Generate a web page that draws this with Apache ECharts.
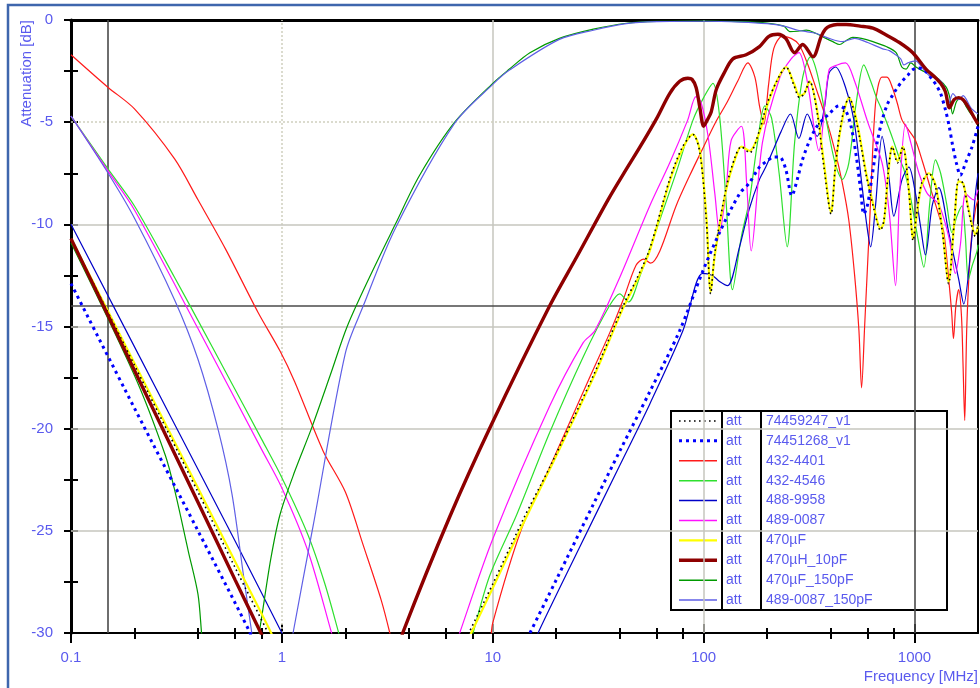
<!DOCTYPE html>
<html>
<head>
<meta charset="utf-8">
<script src="https://cdn.jsdelivr.net/npm/echarts@6/dist/echarts.min.js"></script>
<style>
  html, body { margin: 0; padding: 0; background: #ffffff; }
  #chart { width: 980px; height: 688px; }
</style>
</head>
<body>
<div id="chart"></div>
<script>
// ---- Frequency axis ticks (MHz) ----
const majorTicks = [0.1, 1, 10, 100, 1000];
const minorTicks = [0.2, 0.4, 0.6, 0.8, 2, 4, 6, 8, 20, 40, 60, 80, 200, 400, 600, 800];

// ---- Measured attenuation curves: frequency [MHz] / attenuation [dB] ----
// Each trace has a low-frequency branch and a high-frequency branch; in between it is below -30 dB.

// 74459247_v1
const f74459247Lo = [0.1, 0.2, 0.4, 0.6, 0.86, 0.88];
const a74459247Lo = [-10.7, -16.9, -23.1, -26.8, -30.0, -30.3];
const f74459247Hi = [7.5, 7.7, 10, 14, 18.6, 30, 41.5, 48, 55.5, 69, 79.5, 89, 96, 103, 108, 113, 128, 141, 151, 165, 184, 200, 222, 246, 268, 285, 300, 318, 345, 372, 402, 420, 440, 465, 490, 520, 550, 590, 640, 690, 716, 750, 785, 830, 880, 940, 985, 1020, 1080, 1169, 1260, 1360, 1450, 1540, 1621, 1700, 1800, 1945, 2000];
const a74459247Hi = [-30.3, -30, -27.6, -24.4, -21.9, -17.4, -14.0, -12.7, -11.2, -7.8, -6.2, -5.6, -6.5, -9.8, -13.4, -11.4, -8.2, -6.7, -6.2, -6.5, -5.4, -4.1, -3.0, -2.3, -3.2, -3.8, -3.6, -3.0, -4.5, -7.2, -9.5, -7.3, -5.6, -4.3, -3.8, -4.6, -5.8, -7.6, -9.2, -10.3, -9.8, -7.5, -6.2, -7.0, -6.2, -8.4, -10.8, -9.6, -8.0, -7.5, -8.2, -10.5, -12.9, -10.0, -7.8, -8.0, -9.3, -10.6, -10.0];

// 74451268_v1
const f74451268Lo = [0.1, 0.2, 0.4, 0.7, 0.72];
const a74451268Lo = [-12.9, -19.0, -25.0, -29.9, -30.3];
const f74451268Hi = [14.5, 15, 20, 30, 40, 55.5, 77, 99, 119, 148, 164, 184, 200, 215, 229, 245, 262, 278, 293, 315, 340, 365, 393, 438, 470, 500, 530, 555, 575, 600, 630, 665, 702, 745, 785, 830, 873, 930, 974, 1030, 1090, 1150, 1210, 1270, 1330, 1402, 1460, 1520, 1580, 1650, 1745, 1875, 2000];
const a74451268Hi = [-30.3, -30, -27.4, -23.7, -21.1, -18.2, -15.2, -12.3, -10.4, -8.5, -8.0, -7.2, -6.9, -6.7, -6.7, -7.3, -8.6, -7.8, -6.9, -6.0, -5.3, -4.9, -4.6, -4.2, -4.4, -5.2, -6.7, -8.3, -9.5, -9.0, -7.6, -6.0, -4.9, -4.1, -3.7, -3.3, -3.0, -2.7, -2.45, -2.35, -2.4, -2.6, -2.9, -3.2, -3.6, -4.4, -5.2, -6.2, -7.0, -7.6, -7.0, -6.2, -5.2];

// 432-4401
const f4324401Lo = [0.1, 0.15, 0.2, 0.31, 0.4, 0.54, 0.77, 0.98, 1.15, 1.57, 2.0, 2.43, 2.96, 3.25, 3.3];
const a4324401Lo = [-1.7, -3.3, -4.35, -6.8, -8.8, -11.2, -14.3, -16.2, -17.7, -21.1, -23.1, -25.7, -28.4, -30, -30.4];
const f4324401Hi = [9.8, 10, 13.7, 18.6, 28.8, 35.9, 41.5, 47.8, 52, 56, 62, 74, 86, 100, 114, 128, 145, 162, 175, 184, 193, 203, 215, 236, 260, 283, 310, 340, 380, 422, 455, 488, 520, 545, 561, 580, 615, 653, 700, 740, 785, 830, 873, 940, 1011, 1089, 1212, 1300, 1377, 1453, 1500, 1530, 1570, 1620, 1670, 1700, 1730, 1770, 1850, 1950, 2000];
const a4324401Hi = [-30.4, -29.5, -24.9, -21.9, -17.5, -15.3, -13.7, -12.0, -11.7, -11.9, -11.3, -9.1, -7.6, -6.2, -5.0, -4.1, -3.0, -2.1, -2.8, -4.2, -5.1, -3.2, -1.4, -0.8, -0.9, -1.2, -2.1, -3.3, -4.8, -6.5, -8.0, -9.8, -12.5, -15.2, -18.0, -15.0, -9.5, -4.1, -2.8, -2.8, -3.3, -4.1, -4.9, -5.4, -5.9, -6.9, -8.5, -9.5, -10.4, -12.7, -14.3, -15.6, -14.0, -13.2, -14.5, -17.0, -19.6, -15.0, -11.0, -9.2, -8.8];

// 432-4546
const f4324546Lo = [0.1, 0.15, 0.2, 0.31, 0.4, 0.58, 0.8, 1.0, 1.33, 1.6, 1.86, 1.9];
const a4324546Lo = [-4.7, -7.3, -9.1, -12.6, -14.7, -17.8, -20.5, -22.4, -25.2, -27.6, -30, -30.4];
const f4324546Hi = [7.9, 8.06, 9.67, 13, 18.6, 26.8, 35.7, 40, 44, 50, 61.9, 75, 89, 100, 110.7, 119, 128, 137, 151, 165, 180, 195, 210, 228, 249, 270, 295, 321, 345, 380, 420, 455, 488, 530, 575, 620, 660, 700, 750, 800, 850, 890, 950, 1030, 1107, 1180, 1257, 1330, 1420, 1505, 1590, 1681, 1740, 1800, 1880, 1980, 2000];
const a4324546Hi = [-30.3, -30, -27.2, -24.2, -20.2, -16.5, -14.0, -13.4, -13.8, -12.5, -9.8, -7.3, -4.9, -3.8, -3.1, -4.7, -9.0, -13.2, -10.6, -8.8, -6.0, -4.2, -4.8, -7.5, -11.1, -6.0, -2.8, -1.8, -2.6, -4.8, -7.0, -7.8, -7.0, -4.0, -2.2, -3.0, -3.8, -4.4, -5.2, -6.0, -6.8, -7.3, -8.5, -10.5, -12.1, -9.0, -6.85, -7.5, -9.0, -10.4, -9.6, -9.1, -10.5, -12.7, -12.0, -11.3, -11.0];

// 488-9958
const f4889958Lo = [0.1, 0.3, 0.6, 1.0, 1.02];
const a4889958Lo = [-10.0, -19.5, -25.5, -30.0, -30.2];
const f4889958Hi = [16.0, 16.4, 25, 40, 55.5, 79.8, 99, 110, 119, 130, 148, 164, 184, 197, 215, 232, 258, 283, 310, 345, 375, 393, 422, 471, 516, 565, 595, 619, 653, 702, 756, 798, 873, 940, 1011, 1068, 1127, 1212, 1303, 1453, 1621, 1712, 1842, 1945, 2000];
const a4889958Hi = [-30.4, -30, -26.1, -21.8, -18.8, -15.2, -12.4, -12.5, -12.8, -13.0, -11.1, -9.3, -7.8, -7.2, -6.3, -5.5, -4.6, -5.8, -4.6, -5.7, -4.2, -2.6, -2.3, -3.3, -4.9, -8.2, -10.1, -11.1, -9.1, -5.7, -7.7, -9.6, -7.8, -7.2, -8.5, -10.1, -11.5, -9.1, -8.2, -10.4, -12.7, -13.9, -11.4, -8.5, -7.5];

// 489-0087
const f4890087Lo = [0.1, 0.15, 0.2, 0.4, 0.8, 1.0, 1.33, 1.72, 1.76];
const a4890087Lo = [-4.7, -7.4, -9.3, -15.1, -21.0, -22.9, -26.0, -30, -30.4];
const f4890087Hi = [6.8, 6.97, 10, 18.6, 26.8, 30.5, 40, 55.5, 69, 84, 92, 97, 105, 113, 119, 128, 135, 151, 160, 168, 190, 230, 260, 283, 310, 352, 393, 430, 471, 520, 600, 702, 760, 813, 850, 906, 960, 1050, 1150, 1300, 1453, 1562, 1650, 1750, 1900, 2000];
const a4890087Hi = [-30.4, -30, -25.4, -18.9, -15.8, -15.2, -12.6, -9.1, -7.0, -4.9, -3.75, -4.0, -5.7, -8.5, -10.4, -8.2, -5.9, -5.2, -8.0, -11.3, -6.0, -2.8, -1.9, -1.6, -3.0, -6.4, -2.45, -2.2, -2.1, -3.0, -5.0, -7.0, -9.5, -13.0, -8.5, -5.1, -6.0, -7.5, -8.5, -9.0, -10.6, -12.4, -11.0, -8.5, -8.8, -8.3];

// 470µF
const f470uFLo = [0.1, 0.2, 0.4, 0.6, 0.89, 0.91];
const a470uFLo = [-10.7, -16.8, -22.9, -26.5, -30.0, -30.3];
const f470uFHi = [7.7, 7.9, 10, 14, 18.6, 30, 41.5, 48, 55.5, 69, 79.5, 89, 96, 103, 108, 113, 128, 141, 151, 165, 184, 200, 222, 246, 268, 285, 300, 318, 345, 372, 402, 420, 440, 465, 490, 520, 550, 590, 640, 690, 716, 750, 785, 830, 880, 940, 985, 1020, 1080, 1169, 1260, 1360, 1450, 1540, 1621, 1700, 1800, 1945, 2000];
const a470uFHi = [-30.3, -30, -27.8, -24.6, -22.0, -17.5, -14.1, -12.8, -11.3, -7.9, -6.3, -5.6, -6.4, -9.6, -13.3, -11.5, -8.3, -6.8, -6.2, -6.4, -5.5, -4.2, -3.0, -2.3, -3.1, -3.7, -3.6, -3.0, -4.4, -7.0, -9.4, -7.4, -5.7, -4.4, -3.8, -4.5, -5.7, -7.5, -9.1, -10.2, -9.9, -7.6, -6.2, -6.9, -6.2, -8.3, -10.7, -9.7, -8.1, -7.5, -8.1, -10.4, -12.8, -10.1, -7.9, -8.0, -9.2, -10.5, -10.1];

// 470µH_10pF
const f470uH10pFLo = [0.1, 0.2, 0.4, 0.6, 0.795, 0.81];
const a470uH10pFLo = [-10.7, -17.15, -23.6, -27.4, -30, -30.2];
const f470uH10pFHi = [3.7, 3.74, 6.26, 9.86, 18.6, 25, 35.2, 43, 50, 60, 69, 77, 84.2, 88, 92.1, 96, 100, 104, 108.6, 114.8, 125, 137.6, 159, 184, 204, 225, 245, 270, 295, 330, 361, 378, 396, 430, 475, 551, 635, 734, 848, 981, 1133, 1250, 1330, 1400, 1464, 1540, 1621, 1700, 1809, 1900, 2000];
const a470uH10pFHi = [-30.4, -30, -24.3, -19.8, -14.0, -11.6, -8.8, -7.3, -6.2, -4.8, -3.6, -3.0, -2.85, -2.9, -3.3, -4.3, -5.2, -4.9, -4.5, -3.4, -2.6, -1.9, -1.7, -1.3, -0.8, -0.7, -0.9, -1.6, -1.2, -1.8, -0.8, -0.45, -0.3, -0.22, -0.22, -0.3, -0.4, -0.73, -1.1, -1.6, -2.4, -2.8, -3.1, -3.5, -4.3, -3.9, -3.8, -3.9, -4.3, -4.7, -5.1];

// 470µF_150pF
const f470uF150pFLo = [0.1, 0.2, 0.28, 0.31, 0.36, 0.4, 0.416, 0.42];
const a470uF150pFLo = [-10.9, -17.4, -21.3, -23.0, -26.0, -28.1, -30, -30.5];
const f470uF150pFHi = [0.76, 0.78, 0.885, 0.98, 1.15, 1.38, 1.7, 2.04, 2.6, 3.45, 4.5, 6.6, 10, 12, 15, 20.7, 30, 43, 60, 100, 150, 200, 240, 256, 280, 307, 340, 380, 410, 441, 475, 510, 560, 635, 734, 818, 870, 912, 960, 1016, 1100, 1177, 1303, 1415, 1470, 1515, 1580, 1650, 1750, 1850, 2000];
const a470uF150pFHi = [-30.4, -30, -26.4, -24.2, -22.1, -20, -17.35, -15, -12.6, -10, -7.6, -5, -3.1, -2.4, -1.6, -0.9, -0.45, -0.16, -0.07, -0.05, -0.08, -0.15, -0.3, -0.57, -0.55, -0.5, -0.65, -0.9, -1.06, -1.2, -1.0, -0.85, -0.9, -1.06, -1.3, -1.6, -2.3, -2.4, -2.1, -2.3, -2.5, -2.6, -2.9, -3.3, -3.8, -4.6, -4.0, -3.8, -4.2, -4.6, -5.0];

// 489-0087_150pF
const f4890087150pFLo = [0.1, 0.15, 0.2, 0.31, 0.4, 0.5, 0.58, 0.66, 0.72, 0.73];
const a4890087150pFLo = [-4.7, -7.5, -9.7, -13.7, -16.6, -20.1, -23.2, -27.3, -30, -30.5];
const f4890087150pFHi = [1.12, 1.13, 1.41, 2.0, 2.43, 3.45, 6.6, 10, 12, 20.7, 30, 43, 60, 100, 150, 200, 240, 280, 307, 340, 393, 455, 520, 600, 702, 760, 813, 860, 890, 930, 1011, 1100, 1169, 1303, 1390, 1453, 1520, 1621, 1700, 1850, 2000];
const a4890087150pFHi = [-30.5, -30, -24.7, -16.3, -14.0, -10.2, -5.05, -3.15, -2.45, -0.95, -0.5, -0.18, -0.08, -0.06, -0.1, -0.18, -0.3, -0.5, -0.57, -0.65, -0.9, -1.06, -0.9, -1.1, -1.4, -1.5, -1.7, -1.9, -2.2, -2.1, -2.0, -2.4, -2.7, -2.9, -3.3, -4.1, -3.6, -3.9, -3.7, -4.3, -4.6];

// ---- Reference lines ----
const limitFreqs = [0.15, 1000];   // band edges
const limitLevel = -14;            // dB
const gridFreqs = [10, 100];
const gridLevels = [-10, -15, -20, -25];

// ---- Styling ----
const labelBlue = '#5a5aee';
const fontFamily = '"Liberation Sans", Arial, sans-serif';

// legend order and drawing order
const legendOrder = ['74459247_v1', '74451268_v1', '432-4401', '432-4546', '488-9958', '489-0087', '470µF', '470µH_10pF', '470µF_150pF', '489-0087_150pF'];
const drawOrder = ['432-4401', '432-4546', '488-9958', '489-0087', '470µF_150pF', '489-0087_150pF', '470µF', '74459247_v1', '74451268_v1', '470µH_10pF'];

const styles = {
  '74459247_v1':    { color: '#000000', width: 1.6, type: [1.6, 3.4] },
  '74451268_v1':    { color: '#0000ff', width: 3,   type: [3, 4] },
  '432-4401':       { color: '#ff1a1a', width: 1.2, type: 'solid' },
  '432-4546':       { color: '#2ee02e', width: 1.2, type: 'solid' },
  '488-9958':       { color: '#0000c8', width: 1.2, type: 'solid' },
  '489-0087':       { color: '#ff10ff', width: 1.2, type: 'solid' },
  '470µF':          { color: '#ffff00', width: 2.2, type: 'solid' },
  '470µH_10pF':     { color: '#8e0000', width: 3.4, type: 'solid' },
  '470µF_150pF':    { color: '#009a00', width: 1.2, type: 'solid' },
  '489-0087_150pF': { color: '#5f5fe6', width: 1.2, type: 'solid' }
};

const traces = {
  '74459247_v1':    [f74459247Lo, a74459247Lo, f74459247Hi, a74459247Hi],
  '74451268_v1':    [f74451268Lo, a74451268Lo, f74451268Hi, a74451268Hi],
  '432-4401':       [f4324401Lo, a4324401Lo, f4324401Hi, a4324401Hi],
  '432-4546':       [f4324546Lo, a4324546Lo, f4324546Hi, a4324546Hi],
  '488-9958':       [f4889958Lo, a4889958Lo, f4889958Hi, a4889958Hi],
  '489-0087':       [f4890087Lo, a4890087Lo, f4890087Hi, a4890087Hi],
  '470µF':          [f470uFLo, a470uFLo, f470uFHi, a470uFHi],
  '470µH_10pF':     [f470uH10pFLo, a470uH10pFLo, f470uH10pFHi, a470uH10pFHi],
  '470µF_150pF':    [f470uF150pFLo, a470uF150pFLo, f470uF150pFHi, a470uF150pFHi],
  '489-0087_150pF': [f4890087150pFLo, a4890087150pFLo, f4890087150pFHi, a4890087150pFHi]
};

// join both branches, leaving a gap where the trace is below the plotted range
function toPairs(fLo, aLo, fHi, aHi) {
  const out = fLo.map((f, i) => [f, aLo[i]]);
  out.push([fLo[fLo.length - 1], '-']);
  fHi.forEach((f, i) => out.push([f, aHi[i]]));
  return out;
}

function fmtFreq(v) { return String(parseFloat(Number(v).toPrecision(6))); }

const gridLineLight = { color: '#c6c6be', width: 1.5, type: 'solid' };
const gridLineDotted = { color: '#cfcfbf', width: 1.5, type: [2, 2] };
const gridLineDark = { color: '#4a4a4a', width: 1.6, type: 'solid' };

const markData = []
  .concat(gridFreqs.map(f => ({ xAxis: f, lineStyle: gridLineLight })))
  .concat([{ xAxis: 1, lineStyle: gridLineDotted }])
  .concat(gridLevels.map(v => ({ yAxis: v, lineStyle: gridLineLight })))
  .concat([{ yAxis: -5, lineStyle: gridLineDotted }])
  .concat(limitFreqs.map(f => ({ xAxis: f, lineStyle: gridLineDark })))
  .concat([{ yAxis: limitLevel, lineStyle: gridLineDark }]);

const series = [{
  name: 'grid',
  type: 'line',
  data: [],
  silent: true,
  z: 1,
  markLine: {
    silent: true, z: 1, symbol: ['none', 'none'], label: { show: false },
    animation: false, data: markData
  }
}].concat(drawOrder.map(name => ({
  name: name,
  type: 'line',
  data: toPairs.apply(null, traces[name]),
  showSymbol: false,
  smooth: 0.3,
  connectNulls: false,
  clip: true,
  z: 3,
  lineStyle: { color: styles[name].color, width: styles[name].width, type: styles[name].type, cap: 'butt' },
  emphasis: { disabled: true }
})));

const logAxisBase = { type: 'log', logBase: 10, min: 0.1, max: 2000, gridIndex: 0, splitLine: { show: false } };

const xAxis = [
  Object.assign({}, logAxisBase, {
    position: 'bottom',
    axisLine: { onZero: false, lineStyle: { color: '#000', width: 2 } },
    axisTick: { show: true, inside: false, length: 10, customValues: majorTicks, lineStyle: { color: '#000', width: 2 } },
    axisLabel: { show: true, customValues: majorTicks, formatter: fmtFreq, color: labelBlue, fontSize: 15, fontFamily: fontFamily, margin: 17 }
  }),
  Object.assign({}, logAxisBase, {
    position: 'bottom',
    axisLine: { show: false, onZero: false },
    axisTick: { show: true, inside: false, length: 6, customValues: minorTicks, lineStyle: { color: '#000', width: 2 } },
    axisLabel: { show: false }
  }),
  Object.assign({}, logAxisBase, {
    position: 'bottom',
    axisLine: { show: false, onZero: false },
    axisTick: { show: true, inside: true, length: 9, customValues: majorTicks, lineStyle: { color: '#000', width: 2 } },
    axisLabel: { show: false }
  }),
  Object.assign({}, logAxisBase, {
    position: 'bottom',
    axisLine: { show: false, onZero: false },
    axisTick: { show: true, inside: true, length: 5, customValues: minorTicks, lineStyle: { color: '#000', width: 2 } },
    axisLabel: { show: false }
  }),
  Object.assign({}, logAxisBase, {
    position: 'top',
    axisLine: { show: true, onZero: false, lineStyle: { color: '#000', width: 3 } },
    axisTick: { show: false },
    axisLabel: { show: false }
  })
];

const yBase = { type: 'value', min: -30, max: 0, interval: 2.5, gridIndex: 0, splitLine: { show: false } };
const yAxis = [
  Object.assign({}, yBase, {
    position: 'left',
    axisLine: { show: true, onZero: false, lineStyle: { color: '#000', width: 3 } },
    axisTick: { show: true, inside: false, length: 7, lineStyle: { color: '#000', width: 2 } },
    axisLabel: { show: true, color: labelBlue, fontSize: 15, fontFamily: fontFamily, margin: 18,
      formatter: v => (Math.abs(v % 5) < 1e-9 ? String(v) : '') }
  }),
  Object.assign({}, yBase, {
    position: 'left',
    axisLine: { show: false, onZero: false },
    axisTick: { show: true, inside: true, length: 7, lineStyle: { color: '#000', width: 2 } },
    axisLabel: { show: false }
  }),
  Object.assign({}, yBase, {
    position: 'right',
    axisLine: { show: true, onZero: false, lineStyle: { color: '#000', width: 2 } },
    axisTick: { show: false },
    axisLabel: { show: false }
  })
];

// ---- Legend table ----
const legendBox = { x: 671, y: 411, w: 276, rowH: 19.9, col1: 722, col2: 761 };
const legendChildren = [{
  type: 'rect',
  shape: { x: legendBox.x, y: legendBox.y, width: legendBox.w, height: legendBox.rowH * legendOrder.length },
  style: { fill: '#ffffff', stroke: '#000000', lineWidth: 2 }
}, {
  type: 'line',
  shape: { x1: legendBox.col1, y1: legendBox.y, x2: legendBox.col1, y2: legendBox.y + legendBox.rowH * legendOrder.length },
  style: { stroke: '#000', lineWidth: 2 }
}, {
  type: 'line',
  shape: { x1: legendBox.col2, y1: legendBox.y, x2: legendBox.col2, y2: legendBox.y + legendBox.rowH * legendOrder.length },
  style: { stroke: '#000', lineWidth: 2 }
}];
legendOrder.forEach((name, i) => {
  const cy = legendBox.y + legendBox.rowH * (i + 0.5);
  const st = styles[name];
  legendChildren.push({
    type: 'line',
    shape: { x1: 679, y1: cy, x2: 717, y2: cy },
    style: { stroke: st.color, lineWidth: Math.max(st.width, 1.5), lineDash: Array.isArray(st.type) ? st.type : null }
  });
  legendChildren.push({
    type: 'text', x: 726, y: cy,
    style: { text: 'att', fill: labelBlue, font: '14px ' + fontFamily, align: 'left', verticalAlign: 'middle' }
  });
  legendChildren.push({
    type: 'text', x: 766, y: cy,
    style: { text: name, fill: labelBlue, font: '14px ' + fontFamily, align: 'left', verticalAlign: 'middle' }
  });
});

const option = {
  animation: false,
  backgroundColor: '#ffffff',
  grid: { left: 71, right: 2, top: 20, bottom: 55, containLabel: false },
  xAxis: xAxis,
  yAxis: yAxis,
  series: series,
  graphic: [
    {
      type: 'rect', z: 0, silent: true,
      shape: { x: 8, y: 5, width: 1000, height: 720 },
      style: { fill: null, stroke: '#3e66ad', lineWidth: 2.5 }
    },
    {
      type: 'text', x: 27, y: 20, rotation: Math.PI / 2, z: 10,
      style: { text: 'Attenuation [dB]', fill: labelBlue, font: '15px ' + fontFamily, align: 'right', verticalAlign: 'middle' }
    },
    {
      type: 'text', x: 978, y: 677, z: 10,
      style: { text: 'Frequency [MHz]', fill: labelBlue, font: '15px ' + fontFamily, align: 'right', verticalAlign: 'middle' }
    },
    { type: 'group', z: 100, children: legendChildren }
  ]
};

const chart = echarts.init(document.getElementById('chart'), null, { renderer: 'canvas' });
chart.setOption(option);
</script>
</body>
</html>
